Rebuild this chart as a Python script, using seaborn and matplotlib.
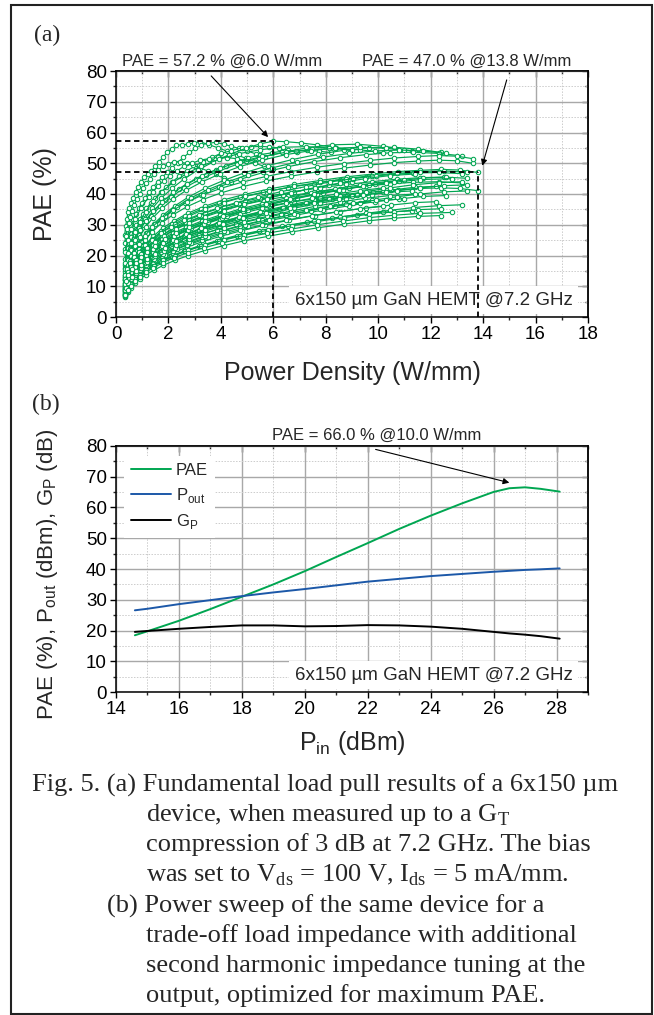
import numpy as np
import pandas as pd
import seaborn as sns
import matplotlib.pyplot as plt
from matplotlib.patches import Rectangle
from matplotlib.lines import Line2D
from matplotlib.ticker import MultipleLocator, NullFormatter

sns.set_style('ticks')
plt.rcParams['font.family'] = ['Liberation Sans', 'DejaVu Sans']
plt.rcParams['mathtext.fontset'] = 'custom'
plt.rcParams['mathtext.rm'] = 'Liberation Sans'

GREEN = '#00a651'
BLUE = '#1c58a8'

# ---- (a) load pull: power density (W/mm) sweeps, one list per load ----
pd_a1 = [0.33, 0.37, 0.41, 0.46, 0.51, 0.58, 0.66, 0.75, 0.85, 0.96, 1.08, 1.21, 1.35, 1.50, 1.65,
         1.80, 1.95, 2.12, 2.30, 2.50, 2.75, 2.98, 3.20, 3.55, 3.90, 4.25, 4.60, 4.95, 5.30]
pd_a2 = [0.35, 0.40, 0.45, 0.51, 0.58, 0.66, 0.75, 0.86, 0.98, 1.11, 1.25, 1.42, 1.60, 1.77, 1.95,
         2.15, 2.35, 2.57, 2.80, 3.02, 3.25, 3.52, 3.80, 4.10, 4.40, 4.70, 5.00, 5.35, 5.70]
pd_a3 = [0.34, 0.39, 0.44, 0.50, 0.58, 0.67, 0.78, 0.90, 1.02, 1.16, 1.32, 1.50, 1.70, 1.92, 2.15,
         2.42, 2.70, 3.00, 3.30, 3.65, 4.00, 4.40, 4.80, 5.15, 5.50, 5.85, 6.20, 6.55, 6.90]
pd_a4 = [0.36, 0.47, 0.62, 0.82, 1.08, 1.42, 1.85, 2.12, 2.40, 2.72, 3.05, 3.42, 3.80, 4.20, 4.60,
         5.05, 5.50, 5.95, 6.40, 6.85, 7.30, 7.75, 8.20]
pd_a5 = [0.33, 0.37, 0.42, 0.48, 0.54, 0.62, 0.70, 0.80, 0.90, 1.02, 1.15, 1.30, 1.45, 1.62, 1.80,
         2.00, 2.20, 2.45, 2.70, 2.95, 3.20, 3.50, 3.80, 4.10, 4.40]
pd_a6 = [0.34, 0.44, 0.57, 0.74, 0.96, 1.24, 1.42, 1.60, 1.82, 2.05, 2.32, 2.60, 2.90, 3.20, 3.55,
         3.90, 4.25, 4.60, 4.95, 5.30, 5.65, 6.00]
pd_b1 = [0.34, 0.43, 0.55, 0.70, 0.88, 1.10, 1.38, 1.72, 2.13, 2.60, 3.12, 3.70, 4.32, 4.96, 5.50,
         6.00, 6.50, 7.05, 7.65, 8.30, 9.00]
pd_t9 = [0.34, 0.44, 0.56, 0.71, 0.90, 1.13, 1.41, 1.76, 2.18, 2.68, 3.26, 3.93, 4.68, 5.50, 6.36,
         7.24, 8.12, 9.00]
pd_t10a = [0.35, 0.45, 0.57, 0.72, 0.91, 1.14, 1.42, 1.77, 2.19, 2.69, 3.28, 3.96, 4.73, 5.58, 6.50,
           7.46, 8.40, 9.30, 10.2]
pd_t10b = [0.33, 0.43, 0.55, 0.69, 0.87, 1.09, 1.36, 1.70, 2.11, 2.60, 3.17, 3.84, 4.59, 5.42, 6.31,
           7.23, 8.15, 9.05, 9.90]
pd_t10c = [0.37, 0.47, 0.60, 0.76, 0.96, 1.20, 1.49, 1.85, 2.28, 2.79, 3.39, 4.08, 4.86, 5.71, 6.62,
           7.56, 8.50, 9.42, 10.3]
pd_t11a = [0.33, 0.42, 0.54, 0.68, 0.86, 1.08, 1.35, 1.69, 2.10, 2.59, 3.17, 3.84, 4.60, 5.44, 6.34,
           7.28, 8.24, 9.20, 10.2, 11.3]
pd_t11b = [0.35, 0.45, 0.57, 0.72, 0.90, 1.13, 1.41, 1.76, 2.18, 2.68, 3.27, 3.95, 4.72, 5.57, 6.48,
           7.42, 8.37, 9.32, 10.3, 11.0]
pd_t11c = [0.36, 0.46, 0.59, 0.75, 0.94, 1.18, 1.47, 1.83, 2.27, 2.79, 3.40, 4.10, 4.89, 5.75, 6.66,
           7.60, 8.55, 9.50, 10.45, 11.4]
pd_t12a = [0.36, 0.46, 0.58, 0.73, 0.92, 1.15, 1.44, 1.80, 2.24, 2.76, 3.38, 4.10, 4.90, 5.78, 6.72,
           7.70, 8.68, 9.64, 10.6, 11.5, 12.4]
pd_t12b = [0.34, 0.44, 0.56, 0.71, 0.89, 1.12, 1.40, 1.75, 2.18, 2.69, 3.30, 4.01, 4.80, 5.67, 6.60,
           7.57, 8.55, 9.52, 10.5, 11.4, 12.2]
pd_t12c = [0.37, 0.47, 0.60, 0.76, 0.95, 1.19, 1.49, 1.86, 2.31, 2.85, 3.49, 4.23, 5.05, 5.95, 6.91,
           7.90, 8.90, 9.88, 10.8, 11.7, 12.6]
pd_t12d = [0.35, 0.45, 0.57, 0.72, 0.91, 1.14, 1.43, 1.78, 2.21, 2.73, 3.35, 4.06, 4.86, 5.74, 6.69,
           7.67, 8.66, 9.64, 10.6, 11.6, 12.8]
pd_t13a = [0.34, 0.43, 0.55, 0.70, 0.88, 1.10, 1.38, 1.72, 2.14, 2.64, 3.24, 3.94, 4.74, 5.62, 6.56,
           7.54, 8.54, 9.52, 10.46, 11.34, 12.3, 13.2]
pd_t13b = [0.36, 0.46, 0.58, 0.74, 0.93, 1.16, 1.45, 1.81, 2.25, 2.77, 3.39, 4.11, 4.93, 5.83, 6.79,
           7.78, 8.78, 9.76, 10.7, 11.6, 12.5, 13.4]
pd_t14a = [0.35, 0.44, 0.56, 0.71, 0.90, 1.13, 1.42, 1.78, 2.22, 2.75, 3.38, 4.10, 4.92, 5.82, 6.78,
           7.78, 8.80, 9.80, 10.75, 11.6, 12.4, 13.1, 13.8]
pd_t14b = [0.34, 0.43, 0.55, 0.70, 0.88, 1.11, 1.39, 1.74, 2.17, 2.69, 3.31, 4.02, 4.83, 5.72, 6.67,
           7.66, 8.68, 9.68, 10.6, 11.5, 12.3, 13.0, 13.6]

load_pd = [pd_a1, pd_a2, pd_a3, pd_a4, pd_a5, pd_a6, pd_b1,
           pd_t11a, pd_t12a, pd_t13a, pd_t10a, pd_t9, pd_t11b, pd_t12c,
           pd_t14a, pd_t14b, pd_t13a, pd_t13b, pd_t14b, pd_t13a, pd_t14a, pd_t13b,
           pd_t12a, pd_t11a, pd_t13a, pd_t12b, pd_t10a, pd_t12c, pd_t11b, pd_t13b, pd_t10b, pd_t12b,
           pd_t11a, pd_t13a, pd_t10a, pd_t12c, pd_t11b, pd_t9, pd_t10b, pd_t12a, pd_t13b, pd_t9,
           pd_t11c, pd_t12d, pd_t10c, pd_t11c, pd_t12d, pd_t10c]

load_pae = [
    [26.7, 29.5, 32.0, 34.0, 35.5, 37.2, 38.8, 40.6, 42.4, 44.0, 45.4, 46.5, 47.5, 49.0, 50.5,
     52.0, 53.5, 54.7, 55.8, 56.0, 56.2, 56.6, 57.0, 56.0, 55.0, 53.9, 52.8, 51.6, 50.5],
    [22.0, 24.3, 26.5, 28.3, 30.0, 31.8, 33.5, 35.3, 37.0, 38.8, 40.5, 42.3, 44.0, 45.5, 47.0,
     48.6, 50.2, 51.9, 53.5, 54.8, 56.0, 56.5, 56.8, 56.2, 55.5, 54.8, 54.0, 53.0, 52.0],
    [19.0, 20.8, 22.5, 24.2, 26.0, 28.0, 30.0, 31.8, 33.5, 35.3, 37.0, 38.8, 40.5, 42.3, 44.0,
     45.8, 47.5, 49.0, 50.5, 51.9, 53.2, 54.1, 55.0, 55.3, 55.5, 55.3, 55.0, 54.3, 53.5],
    [17.0, 20.5, 24.0, 27.5, 31.0, 34.5, 38.0, 39.8, 41.5, 43.2, 44.8, 46.3, 47.8, 49.2, 50.5,
     51.7, 52.8, 53.4, 54.0, 54.1, 54.2, 53.9, 53.5],
    [24.0, 26.3, 28.5, 30.5, 32.5, 34.5, 36.5, 38.3, 40.0, 41.8, 43.5, 45.0, 46.5, 47.8, 49.0,
     49.8, 50.5, 50.3, 50.0, 49.3, 48.5, 47.5, 46.5, 45.3, 44.0],
    [21.0, 25.0, 28.5, 32.0, 35.5, 39.0, 40.8, 42.5, 44.3, 46.0, 47.5, 49.0, 50.0, 51.0, 51.5,
     52.0, 51.8, 51.5, 50.8, 50.0, 49.0, 48.0],
    [16.0, 19.0, 22.2, 25.5, 28.8, 32.0, 35.3, 38.6, 41.8, 44.9, 47.8, 50.4, 52.8, 54.9, 56.3,
     57.2, 57.0, 56.6, 56.0, 55.2, 54.2],
    [14.5, 17.5, 20.6, 23.7, 26.8, 29.9, 33.0, 36.0, 39.0, 41.9, 44.6, 47.2, 49.6, 51.7, 53.5,
     55.0, 56.0, 56.2, 55.5, 54.0],
    [13.0, 15.8, 18.7, 21.6, 24.5, 27.4, 30.3, 33.2, 36.1, 39.0, 41.8, 44.4, 46.9, 49.2, 51.2,
     52.9, 54.2, 55.0, 55.2, 54.6, 53.5],
    [12.0, 14.8, 17.6, 20.4, 23.2, 26.0, 28.8, 31.6, 34.4, 37.1, 39.8, 42.4, 44.8, 47.0, 48.9,
     50.5, 51.8, 52.8, 53.4, 53.6, 53.2, 52.4],
    [15.5, 18.6, 21.8, 25.0, 28.2, 31.3, 34.4, 37.5, 40.5, 43.3, 46.0, 48.4, 50.5, 52.2, 53.6,
     54.5, 54.8, 54.4, 53.4],
    [17.5, 20.8, 24.2, 27.6, 31.0, 34.3, 37.6, 40.8, 43.8, 46.6, 49.1, 51.3, 53.1, 54.4, 55.2,
     55.4, 55.0, 54.2],
    [13.8, 16.8, 19.9, 23.0, 26.1, 29.2, 32.3, 35.3, 38.3, 41.2, 43.9, 46.5, 48.9, 51.0, 52.8,
     54.1, 54.9, 55.2, 54.9, 54.2],
    [12.8, 15.6, 18.5, 21.4, 24.3, 27.2, 30.1, 33.0, 35.9, 38.7, 41.4, 43.9, 46.3, 48.5, 50.4,
     52.0, 53.2, 54.0, 54.3, 54.0, 53.2],
    [10.5, 13.1, 15.8, 18.4, 21.0, 23.6, 26.3, 28.9, 31.3, 33.8, 36.0, 38.1, 39.9, 41.6, 43.1,
     44.4, 45.6, 46.5, 47.3, 47.7, 48.0, 47.8, 47.0],
    [11.0, 13.8, 16.6, 19.4, 22.2, 25.0, 27.8, 30.6, 33.2, 35.8, 38.2, 40.4, 42.4, 44.2, 45.8,
     47.2, 48.4, 49.4, 50.2, 50.7, 51.0, 50.8, 50.0],
    [9.5, 12.1, 14.8, 17.4, 20.0, 22.6, 25.3, 27.9, 30.3, 32.8, 35.0, 37.1, 38.9, 40.6, 42.1,
     43.4, 44.6, 45.5, 46.3, 46.8, 47.0, 46.6],
    [9.0, 11.6, 14.1, 16.7, 19.2, 21.8, 24.3, 26.9, 29.3, 31.6, 33.8, 35.8, 37.7, 39.3, 40.8,
     42.0, 43.1, 44.0, 44.8, 45.3, 45.5, 45.1],
    [12.5, 15.3, 18.1, 20.9, 23.7, 26.5, 29.3, 32.1, 34.7, 37.3, 39.7, 41.9, 43.9, 45.7, 47.3,
     48.7, 49.9, 50.9, 51.7, 52.2, 52.5, 52.3, 51.5],
    [8.0, 10.5, 13.0, 15.6, 18.1, 20.6, 23.1, 25.6, 28.0, 30.3, 32.5, 34.5, 36.3, 37.9, 39.3,
     40.6, 41.7, 42.6, 43.3, 43.8, 44.0, 43.6],
    [7.5, 9.9, 12.3, 14.7, 17.2, 19.6, 22.0, 24.4, 26.6, 28.9, 31.0, 32.9, 34.6, 36.1, 37.5,
     38.7, 39.8, 40.6, 41.3, 41.8, 42.0, 41.8, 41.1],
    [8.8, 11.5, 14.2, 16.9, 19.6, 22.3, 25.1, 27.8, 30.3, 32.8, 35.1, 37.2, 39.2, 40.9, 42.5,
     43.8, 45.0, 46.0, 46.7, 47.3, 47.5, 47.1],
    [6.5, 8.0, 9.4, 10.9, 12.3, 13.8, 15.2, 16.8, 18.4, 20.0, 21.6, 23.2, 24.8, 26.2, 27.7,
     29.0, 30.2, 31.3, 32.1, 32.7, 33.0],
    [6.8, 8.4, 10.0, 11.6, 13.2, 14.8, 16.5, 18.2, 19.8, 21.5, 23.1, 24.8, 26.5, 28.0, 29.5,
     30.9, 32.1, 33.3, 34.1, 34.5],
    [7.0, 8.5, 10.1, 11.7, 13.2, 14.7, 16.3, 17.9, 19.6, 21.4, 23.1, 24.8, 26.5, 28.1, 29.7,
     31.2, 32.5, 33.7, 34.7, 35.6, 36.2, 36.5],
    [7.3, 9.0, 10.6, 12.3, 13.9, 15.6, 17.3, 19.1, 20.9, 22.7, 24.5, 26.3, 28.1, 29.8, 31.5,
     33.0, 34.3, 35.5, 36.4, 37.2, 37.5],
    [7.8, 9.5, 11.2, 12.9, 14.6, 16.3, 18.0, 19.8, 21.6, 23.3, 25.0, 26.7, 28.4, 29.9, 31.5,
     32.9, 34.2, 35.2, 36.0],
    [8.0, 9.7, 11.5, 13.2, 14.9, 16.7, 18.4, 20.3, 22.2, 24.1, 26.0, 27.8, 29.7, 31.5, 33.2,
     34.8, 36.2, 37.5, 38.4, 39.2, 39.5],
    [8.3, 10.1, 11.8, 13.6, 15.3, 17.1, 18.9, 20.7, 22.5, 24.3, 26.1, 27.9, 29.7, 31.4, 33.1,
     34.6, 36.0, 37.1, 38.0, 38.5],
    [8.5, 10.2, 11.9, 13.6, 15.3, 17.0, 18.7, 20.5, 22.4, 24.3, 26.2, 28.1, 30.0, 31.7, 33.5,
     35.2, 36.6, 37.9, 39.1, 40.0, 40.7, 41.0],
    [9.0, 10.7, 12.5, 14.2, 16.0, 17.7, 19.4, 21.3, 23.2, 25.0, 26.7, 28.4, 30.2, 31.8, 33.4,
     34.8, 36.1, 37.1, 38.0],
    [9.5, 11.3, 13.1, 14.9, 16.8, 18.6, 20.4, 22.4, 24.4, 26.3, 28.3, 30.3, 32.3, 34.1, 35.9,
     37.6, 39.0, 40.4, 41.3, 42.2, 42.5],
    [10.0, 11.8, 13.6, 15.4, 17.2, 19.0, 20.9, 22.7, 24.6, 26.4, 28.3, 30.2, 32.0, 33.7, 35.4,
     37.0, 38.4, 39.6, 40.5, 41.0],
    [10.5, 12.2, 14.0, 15.8, 17.5, 19.3, 21.1, 22.9, 24.8, 26.8, 28.8, 30.7, 32.6, 34.5, 36.3,
     38.0, 39.5, 40.8, 42.0, 43.0, 43.7, 44.0],
    [11.0, 12.9, 14.7, 16.6, 18.4, 20.3, 22.2, 24.2, 26.2, 28.1, 29.9, 31.8, 33.6, 35.3, 37.0,
     38.6, 40.0, 41.1, 42.0],
    [11.5, 13.4, 15.2, 17.1, 19.0, 20.9, 22.7, 24.8, 26.8, 28.8, 30.9, 32.9, 34.9, 36.8, 38.7,
     40.4, 41.9, 43.3, 44.3, 45.2, 45.5],
    [12.0, 13.9, 15.8, 17.7, 19.5, 21.4, 23.4, 25.3, 27.3, 29.2, 31.2, 33.1, 35.1, 36.9, 38.7,
     40.3, 41.7, 43.0, 44.0, 44.5],
    [13.0, 14.9, 16.8, 18.8, 20.7, 22.6, 24.6, 26.6, 28.7, 30.7, 32.7, 34.7, 36.6, 38.3, 39.8,
     41.4, 42.8, 44.0],
    [13.5, 15.5, 17.4, 19.4, 21.3, 23.3, 25.2, 27.3, 29.4, 31.4, 33.3, 35.3, 37.2, 39.0, 40.8,
     42.4, 43.9, 45.0, 46.0],
    [7.6, 9.1, 10.6, 12.2, 13.7, 15.2, 16.7, 18.4, 20.0, 21.7, 23.3, 25.0, 26.6, 28.2, 29.7,
     31.1, 32.3, 33.4, 34.2, 34.9, 35.2],
    [9.8, 11.5, 13.3, 15.0, 16.8, 18.5, 20.3, 22.1, 24.0, 26.0, 27.9, 29.8, 31.7, 33.5, 35.4,
     37.0, 38.5, 39.8, 41.0, 42.0, 42.7, 43.0],
    [10.2, 12.0, 13.8, 15.7, 17.5, 19.3, 21.2, 23.1, 25.0, 26.9, 28.8, 30.7, 32.5, 34.1, 35.5,
     37.0, 38.3, 39.5],
    [8.8, 10.6, 12.4, 14.2, 16.0, 17.8, 19.7, 21.6, 23.5, 25.3, 27.2, 29.1, 31.0, 32.7, 34.4,
     36.0, 37.4, 38.6, 39.5, 40.0],
    [10.8, 12.7, 14.6, 16.4, 18.3, 20.2, 22.1, 24.1, 26.2, 28.2, 30.3, 32.3, 34.4, 36.3, 38.2,
     39.9, 41.4, 42.8, 43.8, 44.7, 45.0],
    [9.3, 11.2, 13.0, 14.9, 16.8, 18.7, 20.5, 22.6, 24.6, 26.5, 28.3, 30.2, 32.1, 33.8, 35.5,
     37.1, 38.5, 39.6, 40.5],
    [12.5, 14.5, 16.4, 18.4, 20.4, 22.4, 24.4, 26.4, 28.5, 30.5, 32.6, 34.6, 36.6, 38.5, 40.4,
     42.1, 43.6, 45.0, 46.0, 46.5],
    [7.2, 8.7, 10.1, 11.6, 13.1, 14.6, 16.0, 17.7, 19.3, 20.9, 22.5, 24.1, 25.7, 27.2, 28.6,
     30.0, 31.2, 32.3, 33.1, 33.7, 34.0],
    [11.8, 13.7, 15.6, 17.5, 19.4, 21.3, 23.2, 25.3, 27.3, 29.2, 31.1, 33.0, 35.0, 36.7, 38.4,
     40.0, 41.4, 42.5, 43.5],
]

# marked optimum points in (a)
peak_pd = [6.0, 13.8]
peak_pae = [57.2, 47.0]

# ---- (b) power sweep ----
pin_dbm = [14.6, 15.0, 16.0, 17.0, 18.0, 19.0, 20.0, 21.0, 22.0, 23.0, 24.0, 25.0, 26.0, 26.5, 27.0, 27.5, 28.1]
pae_b = [18.5, 19.8, 23.2, 27.0, 31.0, 35.0, 39.3, 43.9, 48.4, 53.0, 57.3, 61.3, 65.0, 66.2, 66.5, 66.0, 65.1]
pout_b = [26.6, 27.1, 28.6, 29.9, 31.2, 32.4, 33.5, 34.7, 35.9, 36.8, 37.7, 38.4, 39.1, 39.4, 39.7, 39.9, 40.2]
gp_b = [19.6, 19.9, 20.6, 21.2, 21.7, 21.7, 21.4, 21.5, 21.8, 21.7, 21.3, 20.6, 19.6, 19.1, 18.7, 18.2, 17.4]

W, H = 654, 1015
def fx(x):
    return x / W
def fy(y):
    return 1 - y / H

fig = plt.figure(figsize=(W / 100, H / 100), dpi=100)
ax1 = fig.add_axes([fx(116), fy(317), (588 - 116) / W, (317 - 71) / H])
ax2 = fig.add_axes([fx(116), fy(692.3), (588 - 116) / W, (692.3 - 445.7) / H])


def style(ax, xmaj, xmin):
    ax.xaxis.set_major_locator(MultipleLocator(xmaj))
    ax.xaxis.set_minor_locator(MultipleLocator(xmin))
    ax.yaxis.set_major_locator(MultipleLocator(10))
    ax.yaxis.set_minor_locator(MultipleLocator(5))
    ax.grid(which='major', color='#a8a8a8', lw=1.0)
    ax.grid(which='minor', color='#cccccc', lw=0.7, ls=(0, (1.5, 1.5)))
    ax.set_axisbelow(True)
    ax.tick_params(which='major', direction='out', length=4.5, width=1.0, labelsize=13.5, pad=2, colors='black')
    ax.tick_params(which='minor', direction='out', length=2.5, width=1.0)
    for s in ax.spines.values():
        s.set_linewidth(1.1)
        s.set_color('black')
        s.set_visible(True)
    # mirrored ticks pointing inward on top and right
    top = ax.secondary_xaxis('top')
    top.xaxis.set_major_locator(MultipleLocator(xmaj))
    top.xaxis.set_minor_locator(MultipleLocator(xmin))
    top.xaxis.set_major_formatter(NullFormatter())
    right = ax.secondary_yaxis('right')
    right.yaxis.set_major_locator(MultipleLocator(10))
    right.yaxis.set_minor_locator(MultipleLocator(5))
    right.yaxis.set_major_formatter(NullFormatter())
    for sec in (top, right):
        sec.tick_params(which='major', direction='in', length=4.5, width=1.0)
        sec.tick_params(which='minor', direction='in', length=2.5, width=1.0)
        for s in sec.spines.values():
            s.set_linewidth(1.1)


# ---------------- panel (a) ----------------
rows = []
for i, (xs, ys) in enumerate(zip(load_pd, load_pae)):
    for x, y in zip(xs, ys):
        rows.append((i, x, y))
df_lp = pd.DataFrame(rows, columns=['load', 'pd', 'pae'])

sns.lineplot(data=df_lp, x='pd', y='pae', units='load', estimator=None, sort=False,
             color=GREEN, lw=0.85, marker='o', markersize=3.2, markerfacecolor='white',
             markeredgecolor=GREEN, markeredgewidth=0.75, legend=False, ax=ax1, zorder=2)
ax1.set_xlim(0, 18)
ax1.set_ylim(0, 80)
style(ax1, 2, 1)
ax1.set_xlabel('Power Density (W/mm)', fontsize=18)
ax1.set_ylabel('PAE (%)', fontsize=18)
ax1.xaxis.set_label_coords(0.5, (317 - 361) / 246)
ax1.yaxis.set_label_coords((57 - 116) / 472, 0.5)

for x, y in zip(peak_pd, peak_pae):
    ax1.hlines(y, 0, x, colors='black', linestyles=(0, (3, 2)), lw=1.3, zorder=5)
    ax1.vlines(x, 0, y, colors='black', linestyles=(0, (3, 2)), lw=1.3, zorder=5)

ax1.text(17.4, 5.5, '6x150 µm GaN HEMT @7.2 GHz', ha='right', va='center', fontsize=13.5,
         bbox=dict(boxstyle='square,pad=0.3', fc='white', ec='none'), zorder=4)

arrow = dict(arrowstyle='-|>', color='black', lw=0.8, mutation_scale=9, shrinkA=0, shrinkB=0)
ax1.annotate('', xy=(5.8, 58.5), xytext=(3.63, 78.4), arrowprops=arrow, annotation_clip=False)
ax1.annotate('', xy=(13.97, 49.2), xytext=(14.9, 77.1), arrowprops=arrow, annotation_clip=False)
fig.text(fx(222), fy(61), 'PAE = %.1f %% @%.1f W/mm' % (peak_pae[0], peak_pd[0]),
         ha='center', va='center', fontsize=12)
fig.text(fx(467), fy(61), 'PAE = %.1f %% @%.1f W/mm' % (peak_pae[1], peak_pd[1]),
         ha='center', va='center', fontsize=12)

# ---------------- panel (b) ----------------
lab_pae = 'PAE'
lab_pout = 'P$_{\\mathregular{out}}$'
lab_gp = 'G$_{\\mathregular{P}}$'
df_ps = pd.DataFrame({
    'pin': pin_dbm * 3,
    'value': pae_b + pout_b + gp_b,
    'series': [lab_pae] * len(pin_dbm) + [lab_pout] * len(pin_dbm) + [lab_gp] * len(pin_dbm),
})
sns.lineplot(data=df_ps, x='pin', y='value', hue='series',
             palette={lab_pae: GREEN, lab_pout: BLUE, lab_gp: 'black'},
             lw=1.4, legend=False, ax=ax2)
ax2.set_xlim(14, 29)
ax2.set_ylim(0, 80)
style(ax2, 2, 1)
ax2.set_xlabel('P$_{\\mathregular{in}}$ (dBm)', fontsize=18)
ax2.set_ylabel('PAE (%), P$_{\\mathregular{out}}$ (dBm), G$_{\\mathregular{P}}$ (dB)', fontsize=16)
ax2.xaxis.set_label_coords(0.5, (692.3 - 729) / 246.6)
ax2.yaxis.set_label_coords((60 - 116) / 472, 0.48)

handles = [Line2D([], [], color=c, lw=1.4) for c in (GREEN, BLUE, 'black')]
leg = ax2.legend(handles, [lab_pae, lab_pout, lab_gp], loc='upper left', bbox_to_anchor=(0.0, 0.99),
                 fontsize=12, frameon=True, fancybox=False, handlelength=2.4, handletextpad=0.3,
                 labelspacing=0.45, borderpad=0.4)
leg.get_frame().set_edgecolor('none')
leg.get_frame().set_facecolor('white')
leg.get_frame().set_alpha(1)

ax2.text(28.5, 5.6, '6x150 µm GaN HEMT @7.2 GHz', ha='right', va='center', fontsize=13.5,
         bbox=dict(boxstyle='square,pad=0.3', fc='white', ec='none'), zorder=4)
ax2.annotate('', xy=(26.5, 68.0), xytext=(22.25, 78.8), arrowprops=arrow, annotation_clip=False)
fig.text(fx(377), fy(435), 'PAE = 66.0 % @10.0 W/mm', ha='center', va='center', fontsize=12)

# panel letters
fig.text(fx(47), fy(35), '(a)', ha='center', va='center', fontsize=17, family='Liberation Serif')
fig.text(fx(46), fy(404), '(b)', ha='center', va='center', fontsize=17, family='Liberation Serif')

# caption
cap = dict(fontsize=19, family='Liberation Serif', va='center', ha='left')
fig.text(fx(32), fy(785), 'Fig. 5. (a) Fundamental load pull results of a 6x150 µm', **cap)
fig.text(fx(146), fy(815), 'device, when measured up to a G$_{\\mathregular{T}}$', **cap)
fig.text(fx(146), fy(845), 'compression of 3 dB at 7.2 GHz. The bias', **cap)
fig.text(fx(146), fy(875), 'was set to V$_{\\mathregular{ds}}$ = 100 V, I$_{\\mathregular{ds}}$ = 5 mA/mm.', **cap)
fig.text(fx(107), fy(906), '(b) Power sweep of the same device for a', **cap)
fig.text(fx(146), fy(936), 'trade-off load impedance with additional', **cap)
fig.text(fx(146), fy(966), 'second harmonic impedance tuning at the', **cap)
fig.text(fx(146), fy(996), 'output, optimized for maximum PAE.', **cap)

fig.add_artist(Rectangle((fx(11), fy(1014)), fx(652.5) - fx(11), fy(5) - fy(1014),
                         transform=fig.transFigure, fill=False, lw=1.5, ec='#222222'))

fig.savefig('out.png', dpi=100)
